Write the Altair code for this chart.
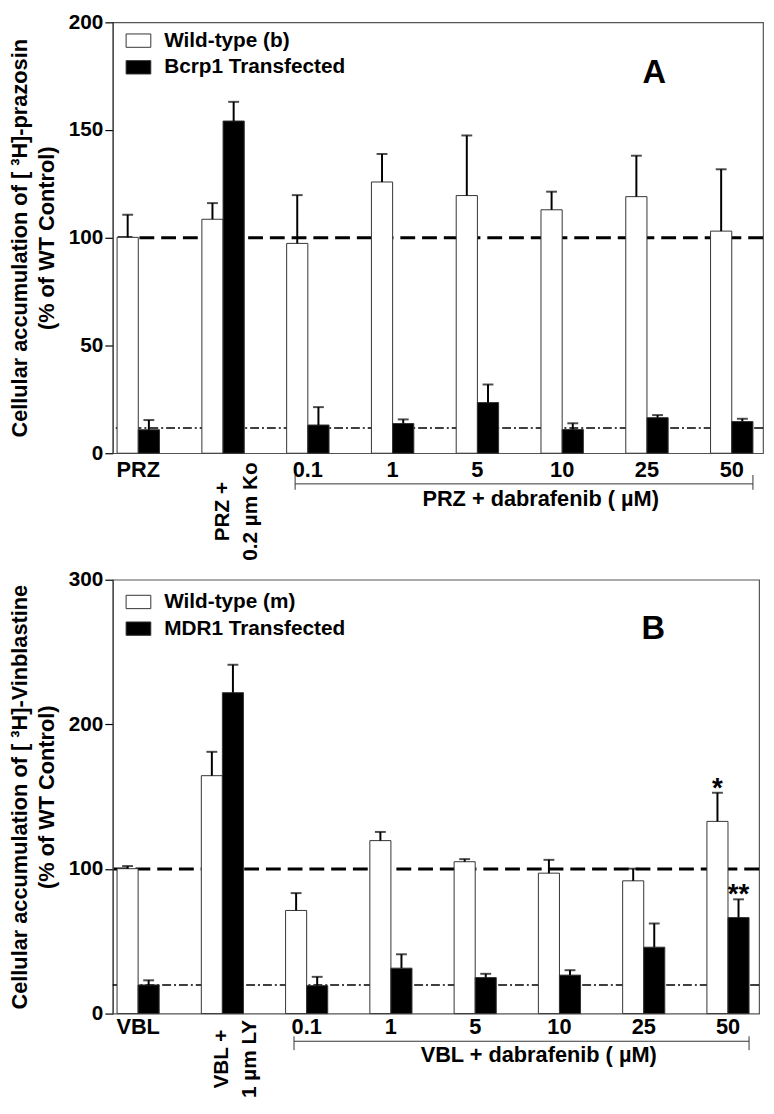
import altair as alt
import pandas as pd

FONT = "Liberation Sans"

# ---------------- Panel A data ----------------
A_groups = ["PRZ", "PRZ+Ko", "0.1", "1", "5", "10", "25", "50"]
A_labels = ["PRZ", "PRZ +\n0.2 µm Ko", "0.1", "1", "5", "10", "25", "50"]
A_rot = [0, 1, 0, 0, 0, 0, 0, 0]
A_series = ["Wild-type (b)", "Bcrp1 Transfected"]
A_wt = [100.2, 108.6, 97.4, 125.9, 119.6, 113.0, 119.1, 103.1]
A_wt_err = [110.7, 116.1, 119.8, 138.9, 147.5, 121.4, 138.1, 131.8]
A_tf = [10.9, 154.2, 13.1, 13.8, 23.5, 11.0, 16.5, 14.7]
A_tf_err = [15.4, 163.1, 21.4, 15.7, 31.9, 13.9, 17.7, 16.0]
A_sig_wt = ["", "", "", "", "", "", "", ""]
A_sig_tf = ["", "", "", "", "", "", "", ""]
A_ticks = [0, 50, 100, 150, 200]
A_title = ["Cellular accumulation of [ ³H]-prazosin", "(% of WT Control)"]
A_base = 11.7
A_caption = "PRZ + dabrafenib ( µM)"

# ---------------- Panel B data ----------------
B_groups = ["VBL", "VBL+LY", "0.1", "1", "5", "10", "25", "50"]
B_labels = ["VBL", "VBL +\n1 µm LY", "0.1", "1", "5", "10", "25", "50"]
B_rot = [0, 1, 0, 0, 0, 0, 0, 0]
B_series = ["Wild-type (m)", "MDR1 Transfected"]
B_wt = [100.2, 164.5, 71.3, 119.6, 105.0, 97.1, 91.8, 132.9]
B_wt_err = [102.0, 181.0, 83.3, 125.6, 106.8, 106.3, 100.2, 152.7]
B_tf = [19.8, 221.9, 19.3, 31.4, 24.9, 26.6, 45.9, 66.4]
B_tf_err = [23.0, 241.2, 25.4, 41.0, 27.5, 30.0, 62.3, 79.0]
B_sig_wt = ["", "", "", "", "", "", "", "*"]
B_sig_tf = ["", "", "", "", "", "", "", "**"]
B_ticks = [0, 100, 200, 300]
B_title = ["Cellular accumulation of [ ³H]-Vinblastine", "(% of WT Control)"]
B_base = 19.8
B_caption = "VBL + dabrafenib ( µM)"


def panel(groups, labels, rot, series, wt, wt_err, tf, tf_err, sig_wt, sig_tf,
          ticks, ytitle, base, caption, letter, g):
    w, h = g["w"], g["h"]
    rows = []
    for i, grp in enumerate(groups):
        rows.append(dict(group=grp, series=series[0], value=wt[i], err=wt_err[i], sig=sig_wt[i]))
        rows.append(dict(group=grp, series=series[1], value=tf[i], err=tf_err[i], sig=sig_tf[i]))
    df = pd.DataFrame(rows)
    cap_df = df.assign(value=df["err"])
    sig_df = cap_df[cap_df["sig"] != ""]
    lab_df = pd.DataFrame({"group": groups, "lab": labels, "rot": rot})

    xs = alt.Scale(domain=groups, paddingInner=0.5, paddingOuter=0.085, align=0.3)
    x = alt.X("group:N", scale=xs, axis=None, sort=groups)
    xo = alt.XOffset("series:N", sort=series,
                     scale=alt.Scale(domain=series, paddingInner=0, paddingOuter=0))
    y = alt.Y("value:Q",
              scale=alt.Scale(domain=[0, ticks[-1]], nice=False),
              axis=alt.Axis(values=ticks, grid=False, tickSize=8, tickColor="black",
                            tickWidth=1.2, labelFontSize=21, labelFontWeight="bold",
                            labelColor="black", labelPadding=2, labelFont=FONT,
                            domainColor="#444", domainWidth=1.2,
                            title=ytitle, titleFontSize=22, titleFontWeight="bold",
                            titleFont=FONT, titleColor="black", titleLineHeight=27,
                            titlePadding=10))

    ref100 = alt.Chart(pd.DataFrame({"value": [100]})).mark_rule(
        color="black", strokeWidth=3, strokeDash=[15, 7]).encode(y=y)
    refbase = alt.Chart(pd.DataFrame({"value": [base]})).mark_rule(
        color="black", strokeWidth=1.4, strokeDash=[9, 3, 2, 3]).encode(y=y)

    bars = alt.Chart(df).mark_bar(stroke="#333", strokeWidth=1, opacity=1).encode(
        x=x, xOffset=xo, y=y,
        fill=alt.Fill("series:N", sort=series,
                      scale=alt.Scale(domain=series, range=["white", "black"]),
                      legend=alt.Legend(title=None, orient="none", legendX=13,
                                        legendY=g["legY"],
                                        symbolType="M-1,-0.54L1,-0.54L1,0.54L-1,0.54Z",
                                        symbolSize=625, symbolStrokeColor="#333",
                                        symbolStrokeWidth=1, symbolOpacity=1,
                                        labelFontSize=21, labelFontWeight="bold",
                                        labelFont=FONT, labelColor="black",
                                        labelLimit=500, labelOffset=13,
                                        rowPadding=4, padding=0)))
    errs = alt.Chart(df).mark_rule(color="black", strokeWidth=2).encode(
        x=x, xOffset=xo, y=y, y2=alt.Y2("err:Q"))
    caps = alt.Chart(cap_df).mark_tick(color="black", thickness=2, size=11,
                                       orient="horizontal").encode(x=x, xOffset=xo, y=y)
    stars = alt.Chart(sig_df).mark_text(fontSize=28, fontWeight="bold", font=FONT,
                                        baseline="alphabetic", dy=4, color="black").encode(
        x=x, xOffset=xo, y=y, text="sig:N")

    reg = alt.Chart(lab_df).transform_filter("datum.rot == 0").mark_text(
        baseline="top", fontSize=22, fontWeight="bold", font=FONT, color="black").encode(
        x=x, y=alt.value(h + g["lab"]), text="lab:N")
    rotl = alt.Chart(lab_df).transform_filter("datum.rot == 1").mark_text(
        angle=270, align="center", baseline="middle", lineBreak="\n", lineHeight=28,
        fontSize=21, fontWeight="bold", font=FONT, color="black").encode(
        x=x, y=alt.value(h + g["rot_off"]), text="lab:N")

    one = pd.DataFrame({"k": [0]})
    brk = alt.Chart(one).mark_rule(color="#333", strokeWidth=1).encode(
        x=alt.XDatum(groups[2], type="nominal", bandPosition=g["bp0"]),
        x2=alt.X2Datum(groups[-1], bandPosition=g["bp1"]),
        y=alt.value(h + g["brk"]))
    brk_l = alt.Chart(one).mark_rule(color="#333", strokeWidth=1).encode(
        x=alt.XDatum(groups[2], type="nominal", bandPosition=g["bp0"]),
        y=alt.value(h + g["t1"]), y2=alt.value(h + g["t2"]))
    brk_r = alt.Chart(one).mark_rule(color="#333", strokeWidth=1).encode(
        x=alt.XDatum(groups[-1], type="nominal", bandPosition=g["bp1"]),
        y=alt.value(h + g["t1"]), y2=alt.value(h + g["t2"]))
    cap_t = alt.Chart(one).mark_text(fontSize=22, fontWeight="bold", font=FONT,
                                     baseline="middle", color="black").encode(
        x=alt.value(g["cx"]), y=alt.value(h + g["cy"]), text=alt.value(caption))
    let_t = alt.Chart(one).mark_text(fontSize=33, fontWeight="bold", font=FONT,
                                     baseline="alphabetic", color="black").encode(
        x=alt.value(g["lx"]), y=alt.value(g["ly"]), text=alt.value(letter))

    return alt.layer(ref100, refbase, bars, errs, caps, stars, reg, rotl,
                     brk, brk_l, brk_r, cap_t, let_t).properties(width=w, height=h)


gA = dict(w=658, h=436, lab=7, rot_off=59, brk=31, t1=22, t2=37, cx=433, cy=46,
          lx=548, ly=61, bp0=0.2, bp1=1.0, legY=5.5)
gB = dict(w=654, h=439, lab=4, rot_off=46, brk=28, t1=23, t2=37, cx=431, cy=42,
          lx=547, ly=60, bp0=0.2, bp1=1.0, legY=9.5)

pA = panel(A_groups, A_labels, A_rot, A_series, A_wt, A_wt_err, A_tf, A_tf_err,
           A_sig_wt, A_sig_tf, A_ticks, A_title, A_base, A_caption, "A", gA)
pB = panel(B_groups, B_labels, B_rot, B_series, B_wt, B_wt_err, B_tf, B_tf_err,
           B_sig_wt, B_sig_tf, B_ticks, B_title, B_base, B_caption, "B", gB)

chart = alt.vconcat(pA, pB, spacing=128, bounds="flush").resolve_scale(
    fill="independent", x="independent", xOffset="independent", y="independent"
).properties(
    padding={"left": 0, "top": -4, "right": 0, "bottom": 0}
).configure(font=FONT).configure_view(stroke="#555", strokeWidth=1.2)

chart.save("out.html", embed_options={"renderer": "svg", "actions": False})
